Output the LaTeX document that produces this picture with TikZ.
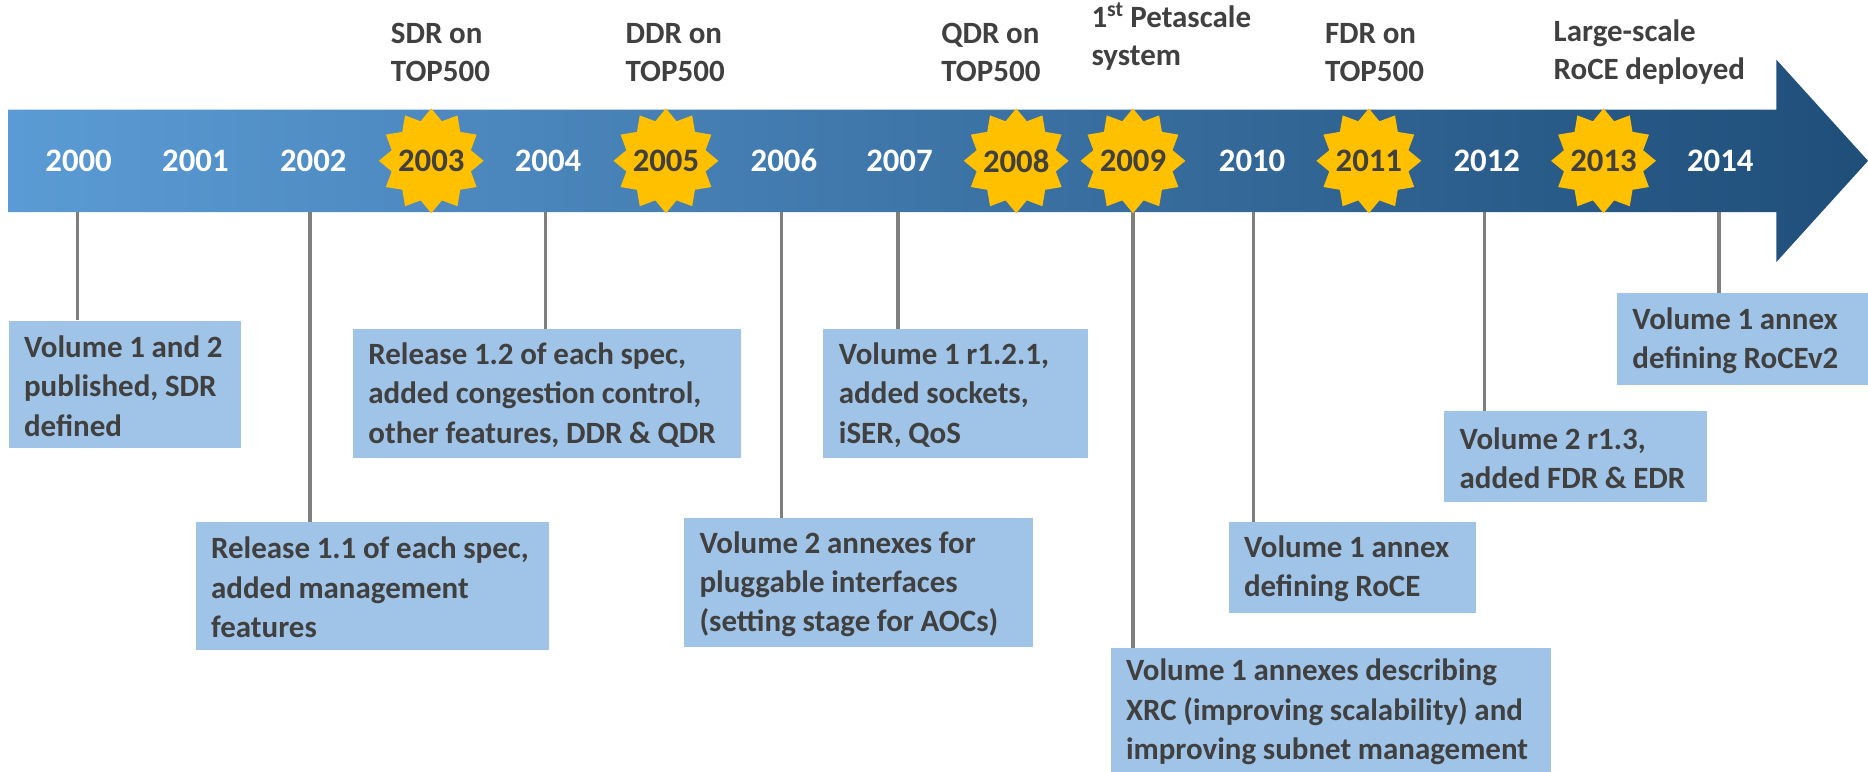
\documentclass[tikz,border=0pt]{standalone}
\usepackage{fontspec}
\setmainfont[WordSpace=0.95]{Carlito}
\usetikzlibrary{shapes.geometric}
\definecolor{ink}{HTML}{404040}
\definecolor{boxblue}{HTML}{A0C4E7}
\definecolor{stemgrey}{HTML}{7F7F7F}
\definecolor{gold}{HTML}{FFC000}
\definecolor{barL}{HTML}{5B9BD5}
\definecolor{barM}{HTML}{3F7CB5}
\definecolor{barR}{HTML}{1F4E79}
\tikzset{
  yearlab/.style={font=\fontsize{27.5}{30}\selectfont\bfseries,text=white,inner sep=0pt},
  burst/.style={star,star points=12,star point ratio=1.28,fill=gold,inner sep=0pt,minimum size=88pt,label={[font=\fontsize{27.5}{30}\selectfont\bfseries,text=ink,inner sep=0pt]center:#1}},
  toplab/.style={anchor=west,align=left,inner sep=0pt,font=\fontsize{26}{32}\selectfont\bfseries,text=ink},
  boxtext/.style={anchor=west,align=left,inner sep=0pt,text=ink,font=\fontsize{26}{33}\selectfont\bfseries},
  stem/.style={draw=stemgrey,line width=3pt},
}
\newcommand{\tlbox}[6]{%
  \pgfmathsetmacro{\bw}{#4-#2}\pgfmathsetmacro{\bh}{#5-#3}\pgfmathsetmacro{\tx}{#2+13}\pgfmathsetmacro{\ty}{(#3+#5)/2+1.5}
  \node[anchor=north west,fill=boxblue,inner sep=0pt,minimum width=\bw pt,minimum height=\bh pt] (#1) at (#2,#3) {};
  \node[boxtext] (#1t) at (\tx,\ty) {#6};}
\begin{document}
\begin{tikzpicture}[x=1pt,y=-1pt]
\useasboundingbox (0,0) rectangle (1568,648);
\path[left color=barL,middle color=barM,right color=barR] (7,92) -- (1491,92) -- (1491,50) -- (1568,135) -- (1491,220) -- (1491,178) -- (7,178) -- cycle;
\foreach \n/\x in {sa/65,sb/260,sc/458,sd/656,se/754,sf/1052,sg/951,sh/1246,si/1443}
  \coordinate (\n) at (\x,178);
\foreach \n/\x/\y in {sa/65/269,sb/260/438,sc/458/276,sd/656/435,se/754/276,sf/1052/438,sg/951/544,sh/1246/345,si/1443/246}
  \coordinate (\n e) at (\x,\y);
\draw[stem] (sa) -- (sae);
\draw[stem] (sb) -- (sbe);
\draw[stem] (sc) -- (sce);
\draw[stem] (sd) -- (sde);
\draw[stem] (se) -- (see);
\draw[stem] (sf) -- (sfe);
\draw[stem] (sg) -- (sge);
\draw[stem] (sh) -- (she);
\draw[stem] (si) -- (sie);
\tlbox{ba}{7}{269}{202}{376}{Volume 1 and 2\\published, SDR\\defined}
\tlbox{bb}{164}{438}{461}{545}{Release 1.1 of each spec,\\added management\\features}
\tlbox{bc}{296}{276}{622}{384}{Release 1.2 of each spec,\\added congestion control,\\other features, DDR \& QDR}
\tlbox{bd}{574}{435}{867}{543}{Volume 2 annexes for\\pluggable interfaces\\(setting stage for AOCs)}
\tlbox{be}{691}{276}{913}{384}{Volume 1 r1.2.1,\\added sockets,\\iSER, QoS}
\tlbox{bf}{1031}{438}{1239}{514}{Volume 1 annex\\defining RoCE}
\tlbox{bg}{932}{544}{1302}{648}{Volume 1 annexes describing\\XRC (improving scalability) and\\improving subnet management}
\tlbox{bh}{1212}{345}{1433}{421}{Volume 2 r1.3,\\added FDR \& EDR}
\tlbox{bi}{1357}{246}{1568}{323}{Volume 1 annex\\defining RoCEv2}
\foreach \n/\x in {2000/66,2001/164,2002/263,2004/460,2006/658,2007/755,2010/1051,2012/1248,2014/1444}
  \node[yearlab] (y\n) at (\x,135) {\n};
\foreach \n/\x in {2003/362,2005/559,2008/853,2009/951,2011/1149,2013/1346}
  \node[burst=\n] (y\n) at (\x,135) {};
\node[toplab] (t1) at (328,44) {SDR on\\TOP500};
\node[toplab] (t2) at (525,44) {DDR on\\TOP500};
\node[toplab] (t3) at (790,44) {QDR on\\TOP500};
\node[toplab] (t4) at (916,31) {1\textsuperscript{st} Petascale\\system};
\node[toplab] (t5) at (1112,44) {FDR on\\TOP500};
\node[toplab] (t6) at (1304,44) {Large-scale\\RoCE deployed};
\end{tikzpicture}
\end{document}
